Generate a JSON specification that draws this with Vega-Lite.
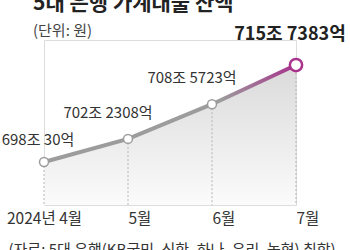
{
  "$schema": "https://vega.github.io/schema/vega-lite/v6.json",
  "width": 252,
  "height": 165,
  "autosize": {"type": "none"},
  "padding": {"left": 44, "top": 40, "right": 54, "bottom": 45},
  "background": "white",
  "title": {
    "text": "5대 은행 가계대출 잔액",
    "subtitle": "(단위: 원)",
    "anchor": "start",
    "frame": "group",
    "dx": -11,
    "offset": -13,
    "font": "Noto Sans CJK KR",
    "fontSize": 21,
    "fontWeight": "bold",
    "color": "#222222",
    "subtitleFont": "Noto Sans CJK KR",
    "subtitleFontSize": 15,
    "subtitleColor": "#444444",
    "subtitlePadding": 10
  },
  "data": {
    "values": [
      {"month": "2024년 4월", "value": 698.003, "label": "698조 30억", "pos": "first"},
      {"month": "5월", "value": 702.2308, "label": "702조 2308억", "pos": "mid"},
      {"month": "6월", "value": 708.5723, "label": "708조 5723억", "pos": "mid"},
      {"month": "7월", "value": 715.7383, "label": "715조 7383억", "pos": "last"}
    ]
  },
  "encoding": {
    "x": {
      "field": "month",
      "type": "ordinal",
      "sort": null,
      "scale": {"type": "point", "padding": 0},
      "axis": {
        "domain": false,
        "ticks": false,
        "grid": false,
        "labelAngle": 0,
        "labelFont": "Noto Sans CJK KR",
        "labelFontSize": 15.5,
        "labelColor": "#333333",
        "labelPadding": 6,
        "labelAlign": {"condition": {"test": "datum.value == '2024년 4월'", "value": "center"}, "value": "left"},
        "title": "(자료: 5대 은행(KB국민, 신한, 하나, 우리, 농협) 취합)",
        "titleAnchor": "start",
        "titleAlign": "left",
        "titleBaseline": "top",
        "titleX": -36,
        "titleY": 37,
        "titleFont": "Noto Sans CJK KR",
        "titleFontSize": 15,
        "titleFontWeight": "normal",
        "titleColor": "#333333"
      }
    },
    "y": {
      "field": "value",
      "type": "quantitative",
      "scale": {"domain": [690.14, 720.31], "zero": false, "nice": false},
      "axis": null
    }
  },
  "layer": [
    {
      "mark": {
        "type": "area",
        "color": {
          "gradient": "linear", "x1": 0, "y1": 0, "x2": 0, "y2": 1,
          "stops": [{"offset": 0, "color": "#dadada"}, {"offset": 1, "color": "#fbfbfb"}]
        }
      },
      "encoding": {"y2": {"datum": 690.14}}
    },
    {
      "mark": {"type": "rule", "color": "#b5b5b5", "strokeWidth": 1, "strokeDash": [2, 2]},
      "encoding": {"y2": {"datum": 690.14}}
    },
    {
      "mark": {
        "type": "line",
        "strokeWidth": 4,
        "stroke": {
          "gradient": "linear", "x1": 0, "y1": 0, "x2": 1, "y2": 0,
          "stops": [
            {"offset": 0, "color": "#9c9c9c"},
            {"offset": 0.7, "color": "#9c9c9c"},
            {"offset": 1, "color": "#a8328c"}
          ]
        }
      }
    },
    {
      "transform": [{"filter": "datum.pos != 'last'"}],
      "mark": {"type": "point", "filled": true, "fill": "white", "stroke": "#9c9c9c", "strokeWidth": 1.5, "size": 80, "opacity": 1}
    },
    {
      "transform": [{"filter": "datum.pos == 'last'"}],
      "mark": {"type": "point", "filled": true, "fill": "white", "stroke": "#a8328c", "strokeWidth": 2.5, "size": 150, "opacity": 1}
    },
    {
      "transform": [{"filter": "datum.pos == 'first'"}],
      "mark": {"type": "text", "font": "Noto Sans CJK KR", "fontSize": 15, "color": "#333333", "baseline": "middle", "align": "center", "dx": -6, "dy": -22},
      "encoding": {"text": {"field": "label"}}
    },
    {
      "transform": [{"filter": "datum.pos == 'mid'"}],
      "mark": {"type": "text", "font": "Noto Sans CJK KR", "fontSize": 15, "color": "#333333", "baseline": "middle", "align": "center", "dx": -20, "dy": -26},
      "encoding": {"text": {"field": "label"}}
    },
    {
      "transform": [{"filter": "datum.pos == 'last'"}],
      "mark": {"type": "text", "font": "Noto Sans CJK KR", "fontSize": 18, "fontWeight": "bold", "color": "#222222", "baseline": "middle", "align": "center", "dx": -6, "dy": -30},
      "encoding": {"text": {"field": "label"}}
    }
  ]
}
